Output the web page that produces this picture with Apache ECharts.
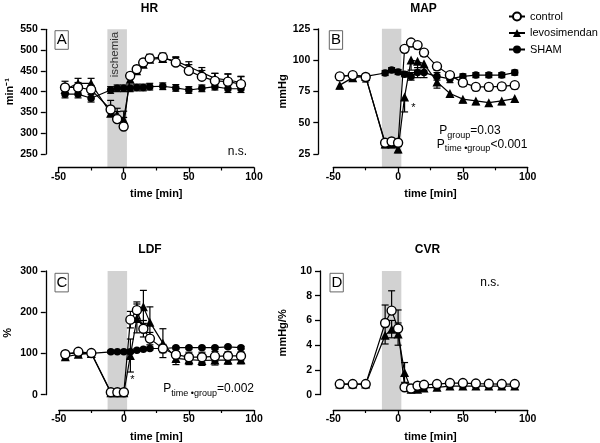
<!DOCTYPE html>
<html><head><meta charset="utf-8">
<script src="https://cdn.jsdelivr.net/npm/echarts/dist/echarts.min.js"></script>
<style>html,body{margin:0;padding:0;background:#fff}#c{width:600px;height:443px}</style>
</head><body><div id="c"></div>
<script>
const times = [-45,-35,-25,-10,-5,0,5,10,15,20,30,40,50,60,70,80,90];
const ischemia = [-12.5, 2.5];
const groups = ['control','levosimendan','SHAM'];
const titles = ['HR','MAP','LDF','CVR'];
const panelLetters = ['A','B','C','D'];

const hrControl = [410,410,405,357,334,316,438,454,470,480,483,470,450,436,426,424,418];
const hrControlErr = [15,12,10,22,18,22,8,8,8,10,10,12,15,15,18,18,18];
const hrLevo = [405,420,420,348,345,333,430,450,466,478,480,474,460,446,432,428,422];
const hrLevoErr = [12,12,12,15,15,20,10,10,10,10,10,10,12,12,12,15,15];
const hrSham = [394,394,384,404,408,408,408,410,410,412,413,409,404,408,412,407,407];
const hrShamErr = [9,9,9,8,8,8,8,8,8,8,8,8,8,8,8,9,9];

const mapControl = [87,88,86.5,34,35,34,109,114,112,106,95,88,82,78.6,78.6,79,80];
const mapControlErr = [3,3,4,2,2,3,3,3,3,3,3,3,3,3,3,3,3];
const mapLevo = [80,86,87,33,33,29,70.6,100,99,97,82.6,73.3,68.8,67.4,66,67.4,69.3];
const mapLevoErr = [3,3,3,3,3,3,12,8,7,7,5,3,3,3,3,3,3];
const mapSham = [87,88,87,89.7,92,90.5,88.7,87,90,90,87,85,87,88,88,88,90];
const mapShamErr = [2,2,2,2,2,2,2,3,4,4,3,3,2,2,2,2,2];

const ldfControl = [98,104,101,6,6,6,182,205,160,136,112,97,91,91,93,94,94];
const ldfControlErr = [5,5,5,2,2,2,20,20,20,15,10,16,12,12,12,10,10];
const ldfLevo = [92,98,100,5,5,5,95,185,213,176,125,88,85,83,84,84,85];
const ldfLevoErr = [6,6,6,2,2,2,40,35,40,37,35,15,12,12,12,10,10];
const ldfSham = [100,100,100,104,104,104,104,108,110,112,112,114,114,114,114,116,114];
const ldfShamErr = [4,4,4,3,3,3,3,3,3,3,3,3,3,3,3,3,3];

const cvrControl = [0.86,0.86,0.86,5.8,6.8,5.35,0.6,0.5,0.72,0.8,0.86,0.94,0.94,0.9,0.88,0.86,0.86];
const cvrControlErr = [0.1,0.1,0.1,1.45,1.6,1.5,0.15,0.1,0.1,0.1,0.1,0.1,0.1,0.1,0.1,0.1,0.1];
const cvrLevo = [0.86,0.86,0.86,4.8,5.3,4.9,1.8,0.45,0.45,0.55,0.6,0.7,0.7,0.7,0.7,0.7,0.7];
const cvrLevoErr = [0.1,0.1,0.1,0.7,0.7,0.9,0.8,0.1,0.1,0.1,0.1,0.1,0.1,0.1,0.1,0.1,0.1];

const yMin = [250, 25, 0, 0];
const yMax = [550, 125, 300, 10];
const yInterval = [50, 25, 100, 2];
const yNames = ['min\u207B\u00B9', 'mmHg', '%', 'mmHg/%'];

const FONT = '"Liberation Sans", Arial, Helvetica, sans-serif';

const grids = [
  {left: 58.5, top: 29.3, width: 195.5, height: 124.7},
  {left: 333.3, top: 28.8, width: 194.4, height: 125.2},
  {left: 58.8, top: 271, width: 195.2, height: 124.7},
  {left: 333.3, top: 271, width: 194.4, height: 124.7}
];
const yOffsets = [12.7, 15, 13, 13.3];
const xOffsets = [13.5, 13.3, 15.3, 15.3];
const yNameGaps = [30, 25, 32, 32];

const panels = [
  [[hrControl, hrControlErr, 'up'], [hrLevo, hrLevoErr, 'up'], [hrSham, hrShamErr, 'both']],
  [[mapControl, mapControlErr, 'down'], [mapLevo, mapLevoErr, 'down'], [mapSham, mapShamErr, 'both']],
  [[ldfControl, ldfControlErr, 'both'], [ldfLevo, ldfLevoErr, 'both'], [ldfSham, ldfShamErr, 'both']],
  [[cvrControl, cvrControlErr, 'up'], [cvrLevo, cvrLevoErr, 'both']]
];

const groupStyle = {
  control: {symbol: 'circle', symbolSize: 9, itemStyle: {color: '#fff', borderColor: '#000', borderWidth: 1.4}, z: 6},
  levosimendan: {symbol: 'triangle', symbolSize: 9, itemStyle: {color: '#000', borderColor: '#000', borderWidth: 0}, z: 5},
  SHAM: {symbol: 'circle', symbolSize: 7.5, itemStyle: {color: '#000', borderColor: '#000', borderWidth: 0}, z: 4}
};

const xAxes = [], yAxes = [], series = [];
grids.forEach((g, i) => {
  xAxes.push({
    type: 'value', gridIndex: i, min: -50, max: 100, interval: 50, offset: xOffsets[i],
    axisLine: {show: true, onZero: false, lineStyle: {color: '#000', width: 1.3}},
    axisTick: {show: true, length: 5, inside: false, lineStyle: {color: '#000', width: 1.3}},
    minorTick: {show: true, splitNumber: 2, length: 3, lineStyle: {color: '#000', width: 1.2}},
    splitLine: {show: false}, minorSplitLine: {show: false},
    axisLabel: {color: '#000', fontWeight: 'bold', fontSize: 10.5, fontFamily: FONT, margin: 4},
    name: 'time [min]', nameLocation: 'middle', nameGap: 21,
    nameTextStyle: {color: '#000', fontWeight: 'bold', fontSize: 11, fontFamily: FONT}
  });
  yAxes.push({
    type: 'value', gridIndex: i, min: yMin[i], max: yMax[i], interval: yInterval[i], offset: yOffsets[i],
    axisLine: {show: true, onZero: false, lineStyle: {color: '#000', width: 1.3}},
    axisTick: {show: true, length: 5, inside: false, lineStyle: {color: '#000', width: 1.3}},
    splitLine: {show: false},
    axisLabel: {color: '#000', fontWeight: 'bold', fontSize: 10.5, fontFamily: FONT, margin: 8},
    name: yNames[i], nameLocation: 'middle', nameGap: yNameGaps[i], nameRotate: 90,
    nameTextStyle: {color: '#000', fontWeight: 'bold', fontSize: 11, fontFamily: FONT}
  });
  // ischemia band
  series.push({
    type: 'custom', name: 'band', xAxisIndex: i, yAxisIndex: i, silent: true, z: 0,
    data: [[ischemia[0], ischemia[1], yMin[i]]],
    encode: {x: [0, 1], y: 2},
    renderItem: (params, api) => {
      const cs = params.coordSys;
      const x0 = api.coord([api.value(0), api.value(2)])[0];
      const x1 = api.coord([api.value(1), api.value(2)])[0];
      return {type: 'rect', shape: {x: x0, y: cs.y, width: x1 - x0, height: cs.height + xOffsets[i]},
        style: {fill: '#d2d2d2'}};
    }
  });
  panels[i].forEach((p, k) => {
    const name = groups[k];
    const vals = p[0], errs = p[1], dir = p[2];
    series.push({
      type: 'custom', name: 'err-' + name, xAxisIndex: i, yAxisIndex: i, silent: true, z: 2,
      data: times.map((t, j) => [t, vals[j], errs[j]]),
      encode: {x: 0, y: 1},
      renderItem: (params, api) => {
        const t = api.value(0), v = api.value(1), e = api.value(2);
        const c = api.coord([t, v]);
        const up = api.coord([t, v + e]);
        const dn = api.coord([t, v - e]);
        const ch = [];
        const st = {stroke: '#000', lineWidth: 1.2};
        const w = 3.5;
        if (dir === 'up' || dir === 'both') {
          ch.push({type: 'line', shape: {x1: c[0], y1: c[1], x2: up[0], y2: up[1]}, style: st});
          ch.push({type: 'line', shape: {x1: c[0] - w, y1: up[1], x2: c[0] + w, y2: up[1]}, style: st});
        }
        if (dir === 'down' || dir === 'both') {
          ch.push({type: 'line', shape: {x1: c[0], y1: c[1], x2: dn[0], y2: dn[1]}, style: st});
          ch.push({type: 'line', shape: {x1: c[0] - w, y1: dn[1], x2: c[0] + w, y2: dn[1]}, style: st});
        }
        return {type: 'group', children: ch};
      }
    });
    const gs = groupStyle[name];
    series.push({
      type: 'line', name: name, xAxisIndex: i, yAxisIndex: i, silent: true,
      data: times.map((t, j) => [t, vals[j]]),
      symbol: gs.symbol, symbolSize: gs.symbolSize, showSymbol: true,
      itemStyle: gs.itemStyle, lineStyle: {color: '#000', width: 1.2}, z: gs.z,
      emphasis: {disabled: true}, clip: false
    });
  });
});

function txt(x, y, text, opts) {
  return {type: 'text', x: x, y: y, z: 100, silent: true, style: Object.assign({text: text, fill: '#000', fontFamily: FONT, fontSize: 12, textAlign: 'center', verticalAlign: 'middle'}, opts || {})};
}
const richP = {
  p: {fontSize: 12, fontFamily: FONT, lineHeight: 14, verticalAlign: 'top', fill: '#000', color: '#000'},
  s: {fontSize: 9, fontFamily: FONT, lineHeight: 10, verticalAlign: 'top', padding: [6, 0, 0, 0], fill: '#000', color: '#000'}
};
const titlePos = [[149.5, 9], [423.5, 9], [150, 250], [427.5, 250]];
const boxPos = [[55, 30.7], [329.3, 30.7], [55, 273.3], [330, 273.3]];
const graphics = [];
titles.forEach((t, i) => graphics.push(txt(titlePos[i][0], titlePos[i][1], t, {fontWeight: 'bold', fontSize: 12})));
panelLetters.forEach((l, i) => {
  graphics.push({type: 'rect', silent: true, shape: {x: boxPos[i][0], y: boxPos[i][1], width: 13.3, height: 18.6},
    style: {fill: '#fff', stroke: '#666', lineWidth: 1}, z: 100});
  graphics.push(Object.assign(txt(boxPos[i][0] + 6.8, boxPos[i][1] + 9.6, l, {fontSize: 15}), {z: 101}));
});
graphics.push(Object.assign(txt(115, 54.5, 'ischemia', {fontSize: 11.5, fill: '#333'}), {rotation: Math.PI / 2}));
graphics.push(txt(237.5, 151.7, 'n.s.'));
graphics.push(txt(490, 282.5, 'n.s.'));
graphics.push(txt(413.5, 107.5, '*', {fontSize: 11}));
graphics.push(txt(132.3, 380, '*', {fontSize: 11}));
graphics.push({type: 'text', x: 439.3, y: 125, z: 100, silent: true, style: {text: '{p|P}{s|group}{p|=0.03}', rich: richP, fill: '#000'}});
graphics.push({type: 'text', x: 436.7, y: 138.5, z: 100, silent: true, style: {text: '{p|P}{s|time \u2022group}{p|<0.001}', rich: richP, fill: '#000'}});
graphics.push({type: 'text', x: 163.3, y: 383, z: 100, silent: true, style: {text: '{p|P}{s|time \u2022group}{p|=0.002}', rich: richP, fill: '#000'}});

const chart = echarts.init(document.getElementById('c'), null, {renderer: 'canvas'});
chart.setOption({
  animation: false,
  backgroundColor: '#fff',
  grid: grids,
  xAxis: xAxes,
  yAxis: yAxes,
  legend: {
    data: groups, orient: 'vertical', left: 508, top: 11, padding: 0,
    itemWidth: 16, itemHeight: 10, itemGap: 5.5,
    textStyle: {color: '#000', fontSize: 11, fontFamily: FONT},
    selectedMode: false
  },
  series: series,
  graphic: {elements: graphics}
});
</script>
</body></html>
